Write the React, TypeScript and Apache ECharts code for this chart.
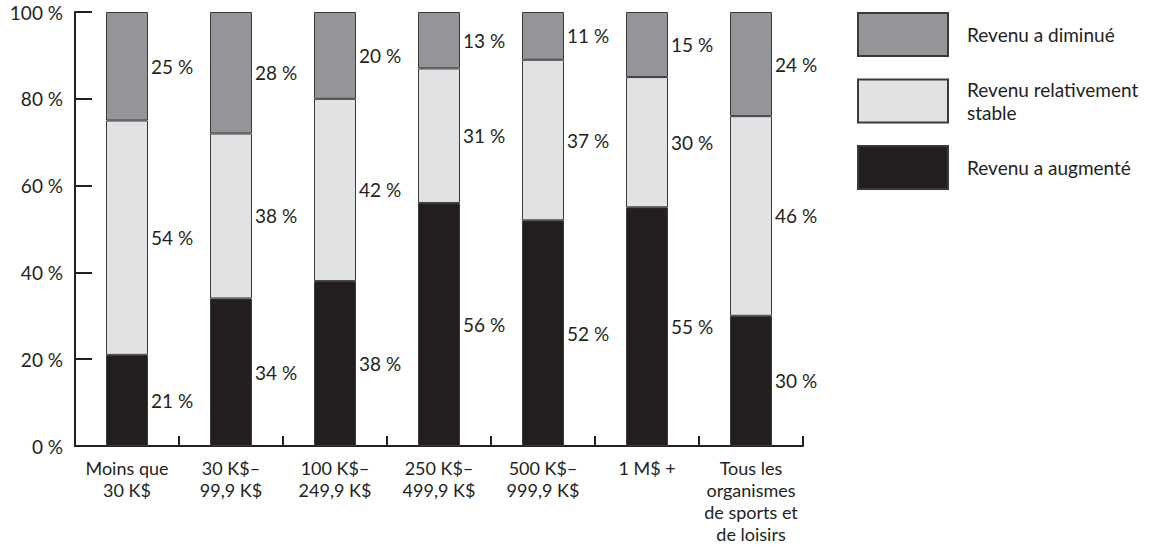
import React, { useEffect, useRef } from "react";
import * as echarts from "echarts";

const categories = [
  "Moins que\n30 K$",
  "30 K$–\n99,9 K$",
  "100 K$–\n249,9 K$",
  "250 K$–\n499,9 K$",
  "500 K$–\n999,9 K$",
  "1 M$ +",
  "Tous les\norganismes\nde sports et\nde loisirs",
];
const increased = [21, 34, 38, 56, 52, 55, 30];
const stable = [54, 38, 42, 31, 37, 30, 46];
const decreased = [25, 28, 20, 13, 11, 15, 24];
const seriesNames = ["Revenu a augmenté", "Revenu relativement\nstable", "Revenu a diminué"];
const yTicks = [0, 20, 40, 60, 80, 100];

const FONT = "Lato, 'Open Sans', sans-serif";
const INK = "#231f20";
const FS = 19;

export default function App() {
  const ref = useRef<HTMLDivElement>(null);
  useEffect(() => {
    if (!ref.current) return;
    const chart = echarts.init(ref.current, null, { renderer: "svg" });
    const mk = (name: string, data: number[], color: string) => ({
      name,
      type: "bar",
      stack: "total",
      data,
      barWidth: 42,
      itemStyle: { color, borderColor: "#3a3a3a", borderWidth: 1 },
      label: {
        show: true,
        position: "right",
        distance: 3,
        formatter: "{c} %",
        color: INK,
        fontFamily: FONT,
        fontSize: FS,
      },
    });
    chart.setOption({
      animation: false,
      backgroundColor: "#ffffff",
      textStyle: { fontFamily: FONT },
      grid: { left: 75, right: 362, top: 12, bottom: 102, containLabel: false },
      legend: {
        orient: "vertical",
        left: 857,
        top: 12,
        padding: 0,
        itemWidth: 90,
        itemHeight: 43,
        itemGap: 21,
        icon: "rect",
        data: [
          { name: seriesNames[2], textStyle: { padding: [0, 0, 10, 14] } },
          { name: seriesNames[1] },
          { name: seriesNames[0], textStyle: { padding: [0, 0, 8, 14] } },
        ],
        selectedMode: false,
        textStyle: {
          color: INK,
          fontFamily: FONT,
          fontSize: FS,
          lineHeight: 23,
          padding: [0, 0, 0, 14],
        },
      },
      xAxis: {
        type: "category",
        data: categories,
        boundaryGap: true,
        axisLine: { show: true, lineStyle: { color: INK, width: 2 } },
        axisTick: { show: true, inside: true, length: 10, lineStyle: { color: INK, width: 2 } },
        axisLabel: {
          interval: 0,
          color: INK,
          fontFamily: FONT,
          fontSize: 18,
          lineHeight: 22,
          margin: 11,
        },
      },
      yAxis: {
        type: "value",
        min: 0,
        max: 100,
        interval: 20,
        axisLine: { show: true, lineStyle: { color: INK, width: 2 } },
        axisTick: { show: true, inside: true, length: 17, lineStyle: { color: INK, width: 2 } },
        splitLine: { show: false },
        axisLabel: {
          color: INK,
          fontFamily: FONT,
          fontSize: FS,
          margin: 12,
          formatter: (v: number) => (yTicks.includes(v) ? `${v} %` : ""),
        },
      },
      series: [
        mk(seriesNames[0], increased, "#231f20"),
        mk(seriesNames[1], stable, "#e1e2e3"),
        mk(seriesNames[2], decreased, "#939598"),
      ],
    });
    return () => chart.dispose();
  }, []);
  return (
    <div
      ref={ref}
      style={{ position: "fixed", left: 0, top: 0, width: 1165, height: 548, background: "#fff" }}
    />
  );
}
